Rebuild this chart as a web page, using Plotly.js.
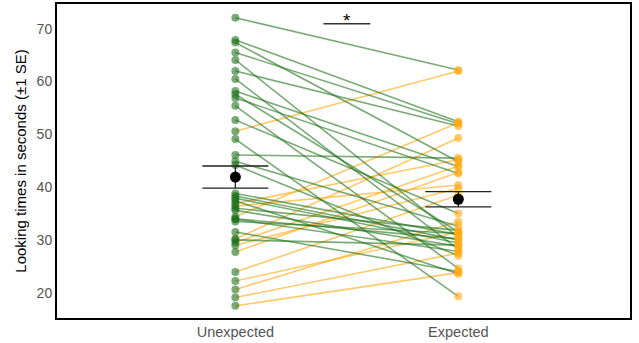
<!DOCTYPE html>
<html>
<head>
<meta charset="utf-8">
<script src="https://cdn.plot.ly/plotly-3.0.1.min.js"></script>
<style>
  html, body { margin: 0; padding: 0; background: #fff; }
  #chart { width: 639px; height: 343px; }
</style>
</head>
<body>
<div id="chart"></div>
<script>
// ---- data ----
const conditions = ["Unexpected", "Expected"];
const conditionPos = [1, 2];

// looking times per participant (seconds)
const unexpectedTimes = [72.1, 67.9, 67.4, 65.5, 64.1, 62.0, 60.5, 58.2, 57.6, 56.9,
                         55.4, 52.7, 49.1, 46.1, 44.9, 44.2, 38.8, 38.3, 37.9, 37.4,
                         36.0, 35.6, 34.0, 33.9, 33.5, 31.5, 30.0, 50.6, 36.9, 36.4,
                         34.4, 30.2, 29.5, 29.0, 27.7, 23.9, 22.2, 20.6, 19.1, 17.5];
const expectedTimes   = [62.2, 52.4, 44.8, 52.0, 30.5, 51.6, 28.2, 43.9, 31.5, 42.6,
                         24.6, 35.0, 19.3, 45.5, 32.6, 27.0, 31.0, 30.0, 29.4, 23.6,
                         31.8, 28.8, 30.2, 27.8, 31.2, 24.0, 29.0, 62.0, 45.2, 40.4,
                         52.2, 49.3, 44.0, 39.8, 42.8, 38.5, 31.5, 33.5, 27.5, 23.8];

// group means and standard errors
const meanTimes = [41.9, 37.7];
const seTimes   = [2.1, 1.45];

const sigLabel = "*";
const yTicks = [20, 30, 40, 50, 60, 70];

// ---- build traces ----
const greenCol = "rgba(25,110,20,0.58)";
const orangeCol = "rgba(255,170,20,0.62)";

const gx = [], gy = [], ox = [], oy = [];
for (let i = 0; i < unexpectedTimes.length; i++) {
  const u = unexpectedTimes[i], e = expectedTimes[i];
  if (u >= e) { gx.push(conditionPos[0], conditionPos[1], null); gy.push(u, e, null); }
  else        { ox.push(conditionPos[0], conditionPos[1], null); oy.push(u, e, null); }
}

const traces = [
  { type: "scatter", mode: "lines", x: ox, y: oy, line: { color: orangeCol, width: 1.6 }, hoverinfo: "skip" },
  { type: "scatter", mode: "lines", x: gx, y: gy, line: { color: greenCol, width: 1.6 }, hoverinfo: "skip" },
  { type: "scatter", mode: "markers",
    x: unexpectedTimes.map(() => conditionPos[0]), y: unexpectedTimes,
    marker: { color: greenCol, size: 8 }, hoverinfo: "skip" },
  { type: "scatter", mode: "markers",
    x: expectedTimes.map(() => conditionPos[1]), y: expectedTimes,
    marker: { color: orangeCol, size: 8 }, hoverinfo: "skip" },
  { type: "scatter", mode: "markers",
    x: conditionPos, y: meanTimes,
    error_y: { type: "data", array: seTimes, visible: true, width: 33, thickness: 1.3, color: "#222" },
    marker: { color: "#000", size: 11 }, hoverinfo: "skip" }
];

const sigMid = (conditionPos[0] + conditionPos[1]) / 2;
const sigY = 70.95;

const layout = {
  width: 639, height: 343,
  margin: { l: 57, r: 9, t: 4, b: 25 },
  paper_bgcolor: "#fff", plot_bgcolor: "#fff",
  showlegend: false,
  font: { family: "Liberation Sans, Arial, sans-serif", color: "#4d4d4d" },
  xaxis: {
    range: [0.2, 2.77],
    tickvals: conditionPos, ticktext: conditions,
    showgrid: false, zeroline: false,
    showline: true, mirror: true, linecolor: "#000", linewidth: 2,
    ticks: "", tickfont: { size: 14.5, color: "#555" }
  },
  yaxis: {
    range: [15.2, 74.7],
    tickvals: yTicks,
    showgrid: false, zeroline: false,
    showline: true, mirror: true, linecolor: "#000", linewidth: 2,
    ticks: "", tickfont: { size: 14, color: "#555" },
    title: { text: "Looking times in seconds (\u00b11 SE)", font: { size: 15, color: "#000" }, standoff: 6 }
  },
  shapes: [
    { type: "line", xref: "x", yref: "y", x0: sigMid - 0.105, x1: sigMid + 0.105, y0: sigY, y1: sigY,
      line: { color: "#333", width: 1.5 } }
  ],
  annotations: [
    { xref: "x", yref: "y", x: sigMid, y: 71.6, text: sigLabel, showarrow: false,
      yanchor: "middle", font: { size: 19, color: "#000" } }
  ]
};

Plotly.newPlot("chart", traces, layout, { staticPlot: true, displayModeBar: false });
</script>
</body>
</html>
